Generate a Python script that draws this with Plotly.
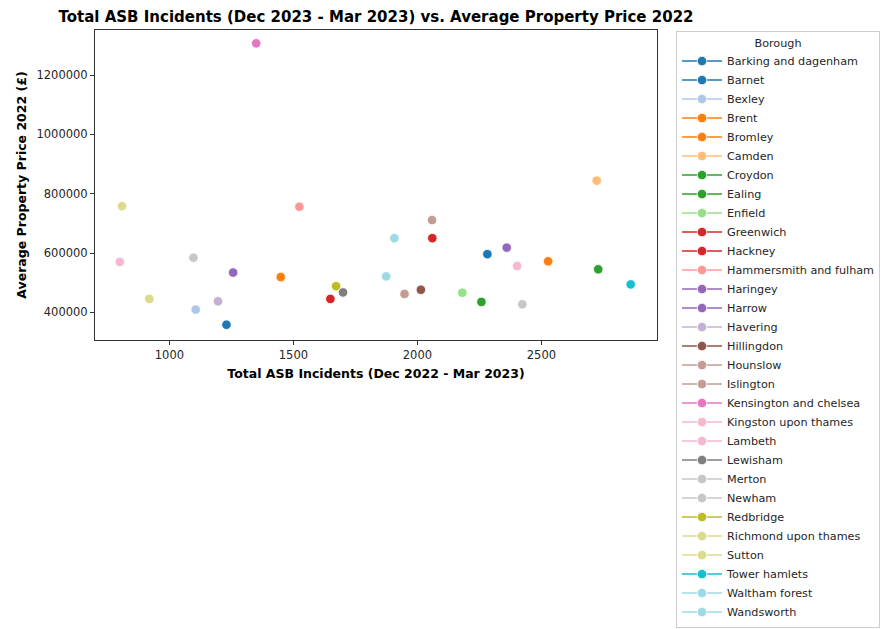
import plotly.graph_objects as go

# Borough data
boroughs = [
    "Barking and dagenham", "Barnet", "Bexley", "Brent", "Bromley", "Camden",
    "Croydon", "Ealing", "Enfield", "Greenwich", "Hackney",
    "Hammersmith and fulham", "Haringey", "Harrow", "Havering", "Hillingdon",
    "Hounslow", "Islington", "Kensington and chelsea", "Kingston upon thames",
    "Lambeth", "Lewisham", "Merton", "Newham", "Redbridge",
    "Richmond upon thames", "Sutton", "Tower hamlets", "Waltham forest",
    "Wandsworth",
]
asb_incidents = [
    1230, 2282, 1106, 2527, 1449, 2723,
    2258, 2729, 2181, 1649, 2060,
    1524, 2360, 1257, 1196, 2014,
    1948, 2059, 1350, 800,
    2402, 1700, 1097, 2423, 1672,
    809, 919, 2860, 1874,
    1907,
]
property_price = [
    358000, 596000, 409000, 572000, 519000, 844000,
    435000, 545000, 466000, 445000, 650000,
    756000, 618000, 534000, 437000, 476000,
    462000, 711000, 1307000, 570000,
    556000, 467000, 584000, 427000, 488000,
    758000, 445000, 494000, 521000,
    650000,
]

# tab20 sampled at 30 levels (seaborn hue palette)
tab20 = [
    "#1f77b4", "#aec7e8", "#ff7f0e", "#ffbb78", "#2ca02c", "#98df8a",
    "#d62728", "#ff9896", "#9467bd", "#c5b0d5", "#8c564b", "#c49c94",
    "#e377c2", "#f7b6d2", "#7f7f7f", "#c7c7c7", "#bcbd22", "#dbdb8d",
    "#17becf", "#9edae5",
]
n = len(boroughs)
colors = [tab20[min(int(i / (n - 1) * 20), 19)] for i in range(n)]

fig = go.Figure()
for name, x, y, c in zip(boroughs, asb_incidents, property_price, colors):
    fig.add_trace(go.Scatter(
        x=[x], y=[y], mode="lines+markers", name=name,
        marker=dict(color=c, size=9.5, line=dict(color="white", width=0.8)),
        line=dict(color=c, width=1.5),
    ))

axis_style = dict(
    showgrid=False, zeroline=False, showline=True, linecolor="#333333",
    linewidth=1, mirror=True, ticks="outside", ticklen=4, tickcolor="#333333",
    tickfont=dict(size=11.5, color="#262626"),
)

# page body has an 8px margin, so the figure is sized to fit the window
fig.update_layout(
    width=883, height=621,
    margin=dict(l=87, r=234, t=22, b=289),
    paper_bgcolor="white", plot_bgcolor="white",
    font=dict(family="DejaVu Sans", color="#262626"),
    title=dict(
        text="<b>Total ASB Incidents (Dec 2023 - Mar 2023) vs. Average Property Price 2022</b>",
        x=0.5, xref="paper", xanchor="center", y=1 - 9 / 621, yanchor="middle",
        font=dict(size=15, color="black"),
    ),
    xaxis=dict(
        title=dict(text="<b>Total ASB Incidents (Dec 2022 - Mar 2023)</b>",
                   font=dict(size=12.5, color="black"), standoff=8),
        range=[700, 2966], tickvals=[1000, 1500, 2000, 2500], **axis_style,
    ),
    yaxis=dict(
        title=dict(text="<b>Average Property Price 2022 (£)</b>",
                   font=dict(size=12.5, color="black"), standoff=7),
        range=[306600, 1352000], tickformat="d",
        tickvals=[400000, 600000, 800000, 1000000, 1200000], **axis_style,
    ),
    legend=dict(
        xref="container", yref="container",
        x=668 / 883, y=1 - 23 / 621, xanchor="left", yanchor="top",
        bgcolor="white", bordercolor="#cccccc", borderwidth=1,
        font=dict(size=11.2, color="#262626"),
        title=dict(text="Borough", side="top center",
                   font=dict(size=11.2, color="#262626")),
        itemwidth=40, maxheight=600,
    ),
)

fig.write_html("out.html")
